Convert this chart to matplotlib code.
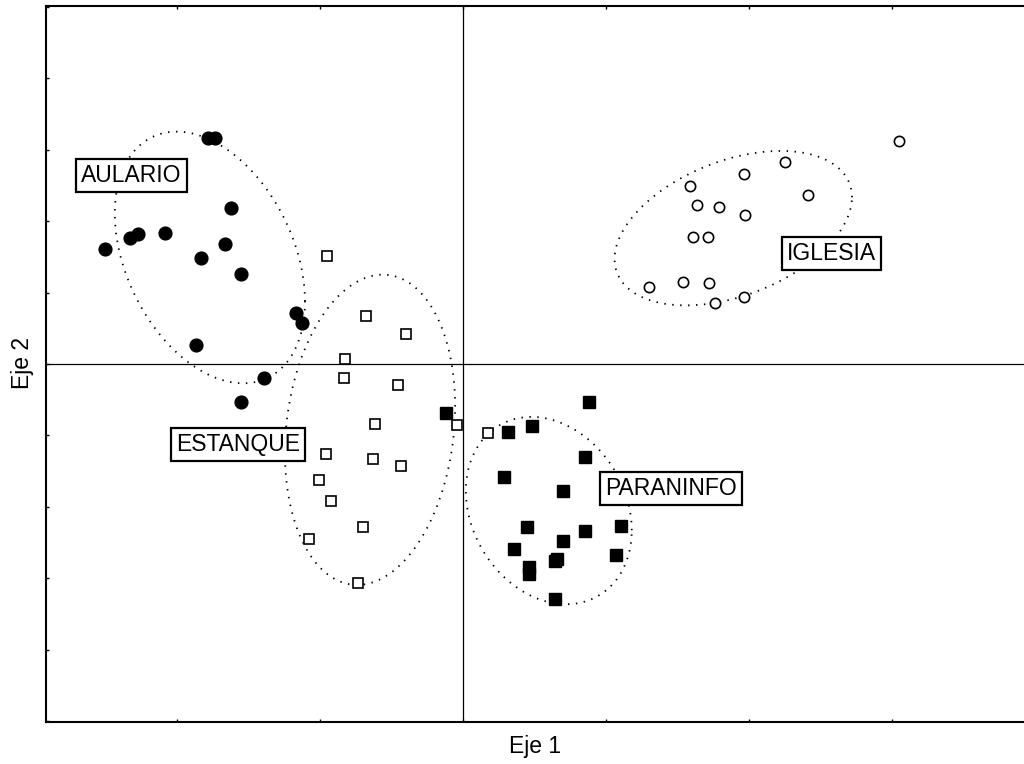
import numpy as np
import matplotlib
matplotlib.use("Agg")
import matplotlib.pyplot as plt

plt.rcParams['font.family'] = ['Liberation Sans', 'DejaVu Sans']

# ---- data (scores on the two axes) ----
aulario_x = [-3.57, -3.47, -3.25, -4.17, -4.55, -4.66, -5.01, -3.33, -3.66, -3.11, -2.34, -2.25, -3.73, -2.78, -3.11]
aulario_y = [3.16, 3.16, 2.18, 1.83, 1.82, 1.76, 1.61, 1.68, 1.48, 1.26, 0.71, 0.57, 0.27, -0.20, -0.53]

estanque_x = [-1.90, -1.36, -0.80, -1.65, -1.66, -0.91, -1.23, -0.08, -1.92, -1.26, -0.87, -2.01, -1.85, -1.40, -2.15, -1.47, 0.35]
estanque_y = [1.51, 0.67, 0.42, 0.07, -0.20, -0.29, -0.84, -0.85, -1.26, -1.33, -1.43, -1.62, -1.92, -2.28, -2.45, -3.06, -0.97]

paraninfo_x = [1.76, 0.63, 0.97, 1.71, 0.57, 1.40, 0.90, 2.21, 1.71, 1.40, 0.71, 1.32, 1.29, 0.92, 0.92, 2.14, 1.29, -0.24]
paraninfo_y = [-0.53, -0.95, -0.87, -1.30, -1.58, -1.78, -2.28, -2.27, -2.34, -2.48, -2.59, -2.73, -2.76, -2.84, -2.94, -2.67, -3.29, -0.69]

iglesia_x = [6.10, 4.50, 3.93, 3.18, 4.83, 3.27, 3.58, 3.94, 3.22, 3.43, 2.60, 3.08, 3.44, 3.93, 3.52]
iglesia_y = [3.12, 2.83, 2.66, 2.49, 2.36, 2.22, 2.20, 2.08, 1.78, 1.78, 1.08, 1.15, 1.13, 0.94, 0.85]

group_names = ["AULARIO", "ESTANQUE", "PARANINFO", "IGLESIA"]
label_x = [-4.64, -3.15, 2.91, 5.15]
label_y = [2.63, -1.12, -1.74, 1.55]

# ellipses: centre, half extent in x and y, correlation
ell_cx = [-3.54, -1.30, 1.20, 3.78]
ell_cy = [1.49, -0.92, -2.05, 1.90]
ell_hx = [1.33, 1.19, 1.16, 1.66]
ell_hy = [1.76, 2.17, 1.31, 1.08]
ell_rho = [-0.35, 0.15, -0.21, 0.40]

fig = plt.figure(figsize=(10.24, 7.64), dpi=100)
ax = fig.add_axes([46/1024, 1-722/764, 1-46/1024, (722-6)/764])

ax.set_xlim(-5.832, 7.846)
ax.set_ylim(-5.007, 5.007)

# cross lines
ax.axhline(0, color='black', lw=0.9, zorder=1)
ax.axvline(0, color='black', lw=0.9, zorder=1)

# ellipses
t = np.linspace(0, 2*np.pi, 400)
for cx, cy, hx, hy, r in zip(ell_cx, ell_cy, ell_hx, ell_hy, ell_rho):
    S = np.array([[hx*hx, r*hx*hy], [r*hx*hy, hy*hy]])
    L = np.linalg.cholesky(S)
    pts = L @ np.vstack([np.cos(t), np.sin(t)])
    ax.plot(pts[0] + cx, pts[1] + cy, color='black', lw=1.3,
            linestyle=(0, (0.8, 3.6)), zorder=2)

# points
ax.plot(aulario_x, aulario_y, 'o', ms=9.2, color='black', zorder=3, linestyle='none')
ax.plot(estanque_x, estanque_y, 's', ms=7.8, mfc='white', mec='black', mew=1.2, zorder=3, linestyle='none')
ax.plot(paraninfo_x, paraninfo_y, 's', ms=8.6, color='black', zorder=3, linestyle='none')
ax.plot(iglesia_x, iglesia_y, 'o', ms=7.4, mfc='white', mec='black', mew=1.2, zorder=3, linestyle='none')

# group labels
for name, lx, ly in zip(group_names, label_x, label_y):
    ax.text(lx, ly, name, fontsize=16.5, ha='center', va='center', zorder=5,
            bbox=dict(boxstyle='square,pad=0.22', fc='white', ec='black', lw=1.6))

# ticks
ax.set_xticks(np.arange(-4, 8, 2))
ax.set_yticks(np.arange(-5, 6, 1))
ax.tick_params(direction='in', length=2, width=1, top=True, right=False,
               labelbottom=False, labelleft=False)
for s in ['left', 'bottom', 'top']:
    ax.spines[s].set_linewidth(1.5)
ax.spines['right'].set_visible(False)

fig.text(535/1024, 1-746/764, "Eje 1", fontsize=16.5, ha='center', va='center')
fig.text(22/1024, 1-363/764, "Eje 2", fontsize=16.5, ha='center', va='center', rotation=90)

fig.savefig("out.png", dpi=100)
